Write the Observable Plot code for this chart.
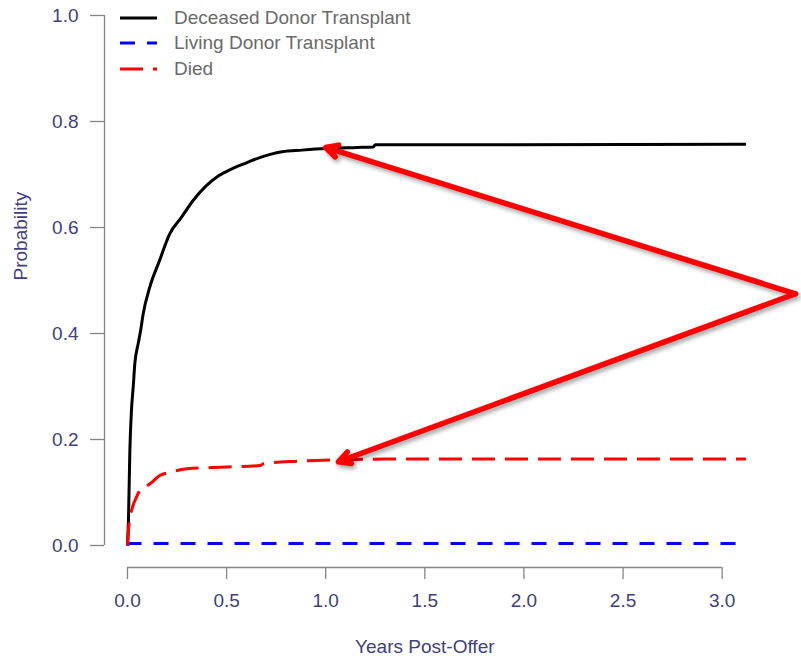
<!DOCTYPE html>
<html>
<head>
<meta charset="utf-8">
<script src="https://cdn.jsdelivr.net/npm/d3@7"></script>
<script src="https://cdn.jsdelivr.net/npm/@observablehq/plot@0.6"></script>
<style>
  body { margin: 0; background: #fff; }
  #wrap { position: relative; width: 801px; height: 660px; font-family: "Liberation Sans", Arial, sans-serif; }
  #legend { position: absolute; left: 120px; top: 5px; font-size: 19px; color: #6a6a6a; }
  #legend .row { display: flex; align-items: center; height: 25.5px; }
  #legend svg { margin-right: 17px; }
</style>
</head>
<body>
<div id="wrap"><div id="legend"></div></div>
<script>
// ---- data ----
const seriesNames = ["Deceased Donor Transplant", "Living Donor Transplant", "Died"];
const seriesColors = ["#000000", "#0000ff", "#ff0000"];
const seriesDash = [null, "15,12", "23,10"];

const deceasedYears = [0, 0.005, 0.012, 0.020, 0.029, 0.037, 0.054, 0.066, 0.079, 0.112, 0.162, 0.213, 0.272, 0.331, 0.398, 0.449, 0.491, 0.54, 0.6, 0.66, 0.72, 0.78, 0.88, 1.0, 1.16, 1.24, 1.25, 3.12];
const deceasedProb  = [0, 0.05, 0.18, 0.255, 0.30, 0.343, 0.381, 0.405, 0.437, 0.487, 0.538, 0.588, 0.619, 0.651, 0.679, 0.695, 0.704, 0.713, 0.722, 0.731, 0.738, 0.743, 0.746, 0.749, 0.751, 0.752, 0.756, 0.757];

const livingYears = [0, 0.01, 3.12];
const livingProb  = [0, 0.004, 0.004];

const diedYears = [0, 0.008, 0.025, 0.045, 0.062, 0.112, 0.163, 0.213, 0.30, 0.50, 0.67, 0.69, 0.86, 1.3, 3.12];
const diedProb  = [0, 0.041, 0.072, 0.091, 0.104, 0.116, 0.132, 0.138, 0.145, 0.148, 0.151, 0.155, 0.159, 0.163, 0.163];

const xTicks = [0, 0.5, 1, 1.5, 2, 2.5, 3];
const yTicks = [0, 0.2, 0.4, 0.6, 0.8, 1.0];
const xDomain = [-0.116, 3.37];
const yDomain = [-0.0415, 1];

// annotation arrows (data coordinates)
const arrowStartYear = [3.37, 3.37];
const arrowStartProb = [0.475, 0.475];
const arrowEndYear = [1.0, 1.064];
const arrowEndProb = [0.751, 0.158];

// ---- build ----
const seriesX = [deceasedYears, livingYears, diedYears];
const seriesY = [deceasedProb, livingProb, diedProb];
const seriesRows = seriesNames.map((name, i) => seriesX[i].map((x, j) => ({series: name, x, y: seriesY[i][j]})));
const arrowRows = arrowEndYear.map((x2, i) => ({x1: arrowStartYear[i], y1: arrowStartProb[i], x2, y2: arrowEndProb[i]}));

const tickColor = "#40407c";
const axisColor = "#858585";

const plot = Plot.plot({
  width: 801,
  height: 660,
  marginLeft: 104,
  marginRight: 6,
  marginTop: 15,
  marginBottom: 93,
  x: {domain: xDomain},
  y: {domain: yDomain},
  style: {fontFamily: "'Liberation Sans', Arial, sans-serif", fontSize: "19px", background: "#fff", overflow: "visible"},
  marks: [
    Plot.ruleX([xDomain[0]], {y1: yTicks[0], y2: yTicks[yTicks.length - 1], stroke: axisColor, strokeWidth: 1.3}),
    Plot.ruleY([yDomain[0]], {x1: xTicks[0], x2: xTicks[xTicks.length - 1], stroke: axisColor, strokeWidth: 1.3}),
    Plot.axisY(yTicks, {tickSize: 14, tickPadding: 12, tickFormat: d => d.toFixed(1), stroke: axisColor, strokeWidth: 1.3, fill: tickColor, label: null}),
    Plot.axisX(xTicks, {tickSize: 12, tickPadding: 14, tickFormat: d => d.toFixed(1), stroke: axisColor, strokeWidth: 1.3, fill: tickColor, label: null}),
    Plot.text(["Probability"], {text: d => d, frameAnchor: "left", rotate: -90, dx: -84, dy: -11, fill: tickColor}),
    Plot.text(["Years Post-Offer"], {text: d => d, x: d3.mean(xTicks), frameAnchor: "bottom", dy: 85, fill: tickColor}),
    ...seriesRows.map((rows, i) => Plot.line(rows, {
      x: "x", y: "y", stroke: seriesColors[i], strokeWidth: 3, curve: "monotone-x",
      strokeDasharray: seriesDash[i] || undefined, strokeLinecap: "butt", strokeLinejoin: "miter"
    })),
    Plot.arrow(arrowRows, {x1: "x1", y1: "y1", x2: "x2", y2: "y2", stroke: "#ff0000", strokeWidth: 5.5, headLength: 3.6, headAngle: 55, strokeLinejoin: "miter"})
  ]
});

d3.select(plot).selectAll('g[aria-label="arrow"]').style("filter", "drop-shadow(2px 3px 2px rgba(0,0,0,0.35))");

const wrap = document.getElementById("wrap");
wrap.insertBefore(plot, wrap.firstChild);

// legend
const legend = d3.select("#legend");
seriesNames.forEach((name, i) => {
  const row = legend.append("div").attr("class", "row");
  const s = row.append("svg").attr("width", 37).attr("height", 6);
  s.append("line").attr("x1", 0).attr("x2", 37).attr("y1", 3).attr("y2", 3)
    .attr("stroke", seriesColors[i]).attr("stroke-width", 3)
    .attr("stroke-dasharray", seriesDash[i]);
  row.append("span").text(name);
});
</script>
</body>
</html>
